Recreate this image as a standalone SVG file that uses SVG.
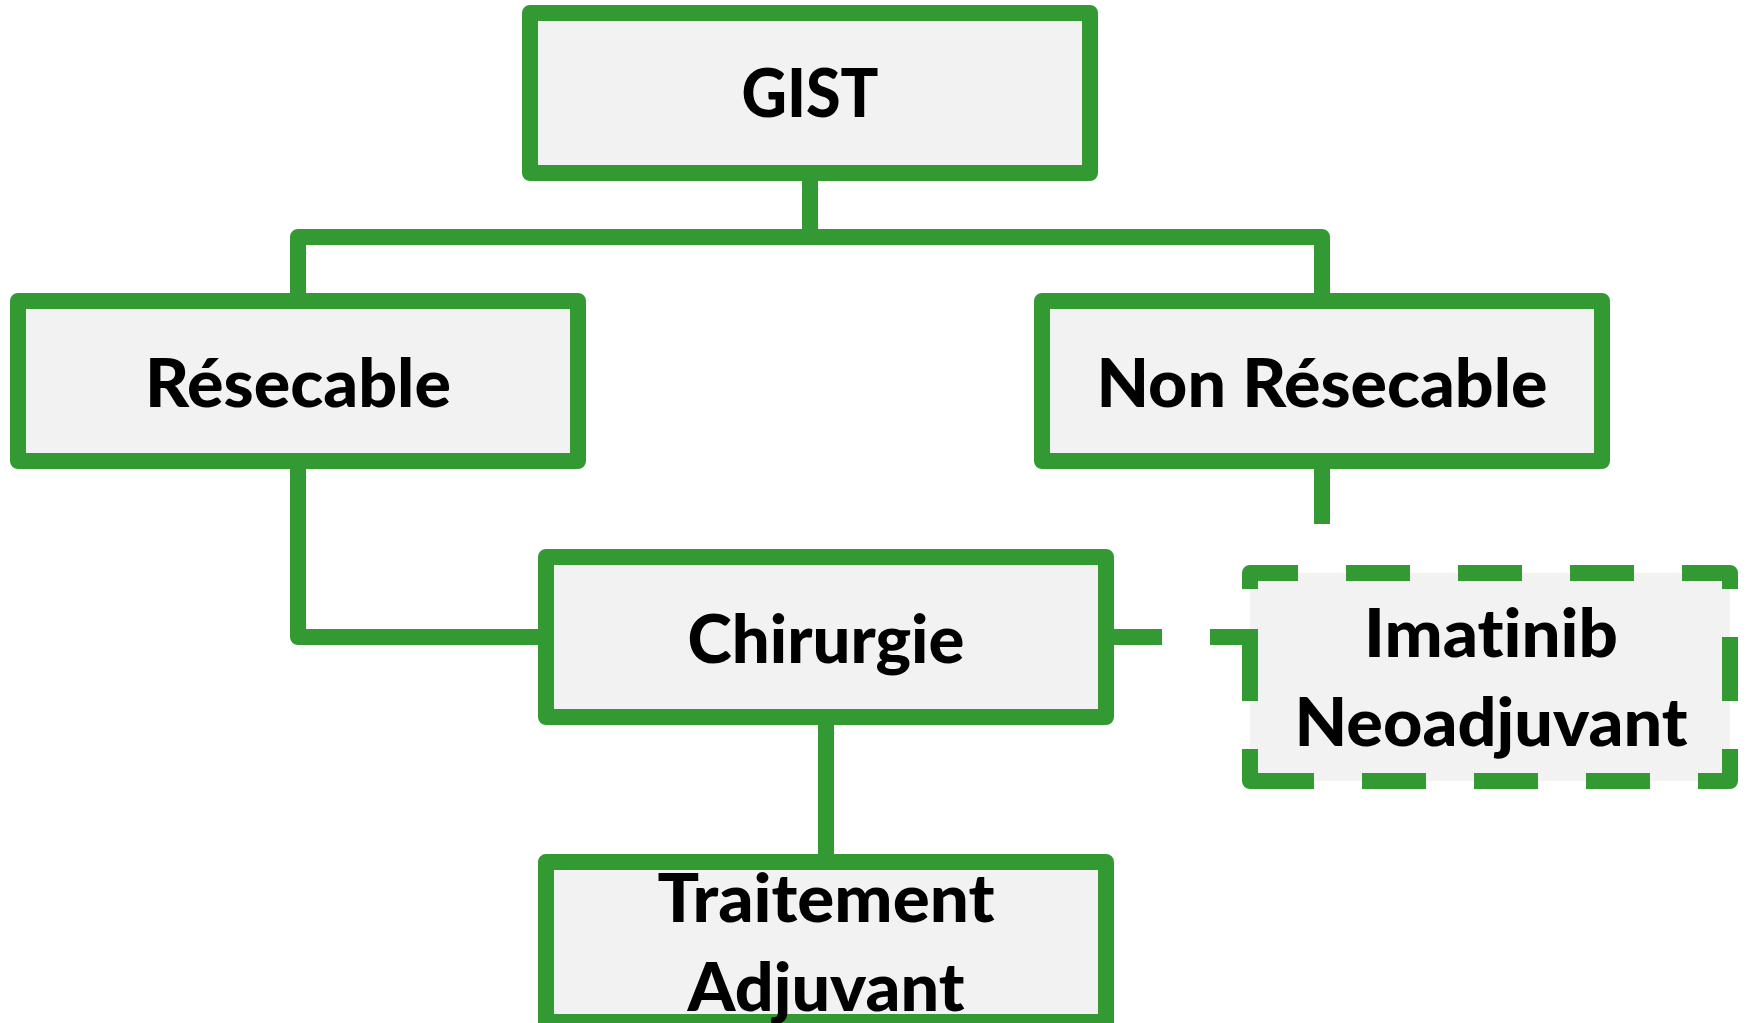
<svg xmlns="http://www.w3.org/2000/svg" width="1746" height="1023" viewBox="0 0 1746 1023">
  <style>
    .box { fill: #F2F2F2; stroke: #339933; stroke-width: 16; stroke-linejoin: round; }
    .dash { fill: #F2F2F2; stroke: #339933; stroke-width: 16; stroke-linejoin: round;
            stroke-dasharray: 0 48 64 48 64 48 64 48 64 48 64 48 64 48 64 48 64 48 64 48 96 48 64 48 64 0; }
    .conn { fill: none; stroke: #339933; stroke-width: 16; stroke-linejoin: round; }
    .conn-dash { fill: none; stroke: #339933; stroke-width: 16; stroke-dasharray: 64 48; }
    .lbl { font-family: Lato, "Liberation Sans", sans-serif; font-weight: 900; font-size: 66px; fill: #000000; text-anchor: middle;
           font-variant-ligatures: none; font-feature-settings: "liga" 0, "clig" 0; }
  </style>
  <rect width="1746" height="1023" fill="#FFFFFF"/>
  <g id="connectors">
    <path class="conn" d="M810,181 V237"/>
    <path class="conn" d="M298,301 V237 H1322 V301"/>
    <path class="conn" d="M298,461 V637 H546"/>
    <path class="conn" d="M1322,461 V524"/>
    <path class="conn" d="M826,717 V862"/>
  </g>
  <g id="node-gist">
    <rect class="box" x="530" y="13" width="560" height="160"/>
    <text class="lbl" x="810" y="117" textLength="137" lengthAdjust="spacingAndGlyphs">GIST</text>
  </g>
  <g id="node-resecable">
    <rect class="box" x="18" y="301" width="560" height="160"/>
    <text class="lbl" x="298" y="407" textLength="306" lengthAdjust="spacingAndGlyphs">Résecable</text>
  </g>
  <g id="node-non-resecable">
    <rect class="box" x="1042" y="301" width="560" height="160"/>
    <text class="lbl" x="1322" y="407" textLength="451" lengthAdjust="spacingAndGlyphs">Non Résecable</text>
  </g>
  <g id="node-chirurgie">
    <rect class="box" x="546" y="557" width="560" height="160"/>
    <text class="lbl" x="826" y="663" textLength="277" lengthAdjust="spacingAndGlyphs">Chirurgie</text>
  </g>
  <g id="node-imatinib">
    <path class="dash" d="M1298,573 H1730 V781 H1250 V573 Z"/>
    <text class="lbl" x="1491" y="657" textLength="254" lengthAdjust="spacingAndGlyphs">Imatinib</text>
    <text class="lbl" x="1491" y="746" textLength="393" lengthAdjust="spacingAndGlyphs">Neoadjuvant</text>
  </g>
  <g id="node-traitement">
    <rect class="box" x="546" y="862" width="560" height="160"/>
    <text class="lbl" x="826" y="922" textLength="337" lengthAdjust="spacingAndGlyphs">Traitement</text>
    <text class="lbl" x="826" y="1011" textLength="277" lengthAdjust="spacingAndGlyphs">Adjuvant</text>
  </g>
  <g id="connectors-dashed">
    <path class="conn-dash" d="M1098,637 H1258"/>
  </g>
</svg>
